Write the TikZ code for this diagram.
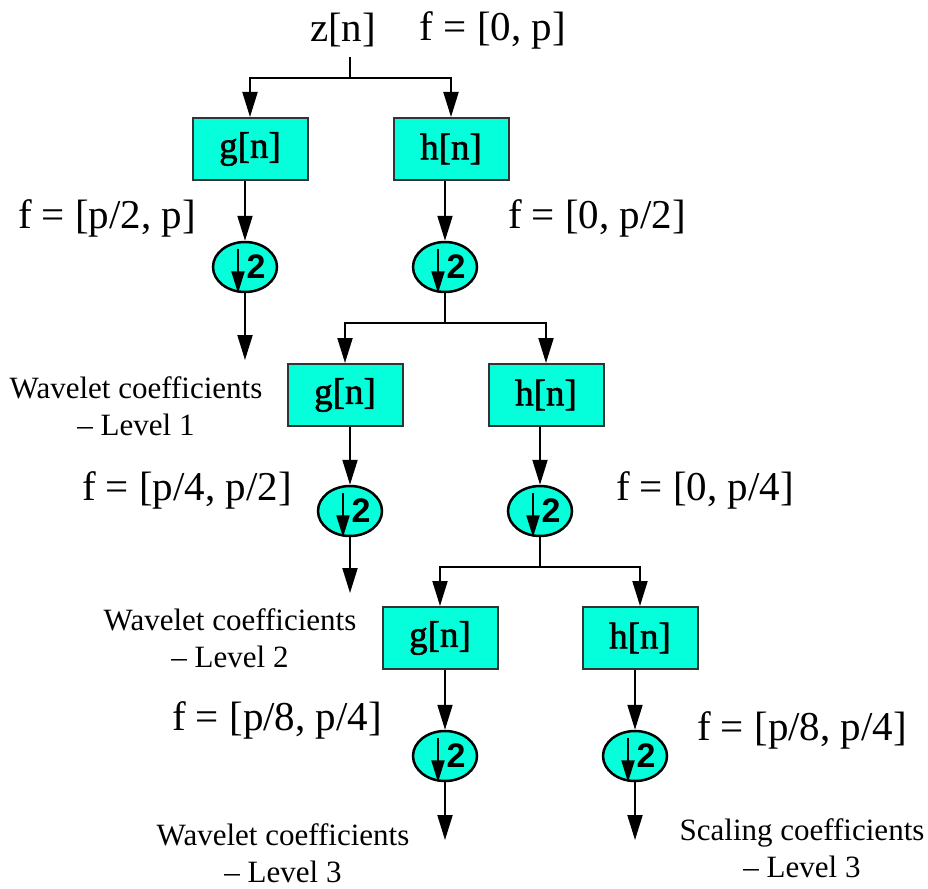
\documentclass[tikz,border=0pt]{standalone}
\usepackage{fontspec}
\setmainfont{Liberation Serif}
\newfontfamily\boxfont[FakeBold=1.6]{Liberation Serif}
\newfontfamily\digitfont{Liberation Sans}
\usetikzlibrary{arrows.meta}
\usetikzlibrary{shapes.geometric}
\definecolor{mycyan}{RGB}{5,255,218}

\begin{document}
\begin{tikzpicture}[x=1pt, y=-1pt,
  arr/.style={-{Triangle[length=25pt,width=15pt]}, line width=2pt},
  iarr/.style={-{Triangle[length=22pt,width=13pt]}, line width=2.2pt},
  filt/.style={draw=black!80, line width=2pt, fill=mycyan, minimum width=115pt, minimum height=62pt, font=\boxfont\fontsize{37}{40}\selectfont},
  dec/.style={ellipse, draw, line width=2.5pt, fill=mycyan, minimum width=64pt, minimum height=50pt, inner sep=0pt},
  two/.style={inner sep=0pt, font=\digitfont\fontsize{34}{36}\selectfont\bfseries},
  big/.style={font=\fontsize{41}{48}\selectfont},
  small/.style={font=\fontsize{31}{37}\selectfont, align=center}]
\useasboundingbox (0,0) rectangle (928,888);

\node[big] (zn) at (343,30) {z[n]};
\node[big] (f0) at (493,30) {f = [0, p]};
\coordinate (t1) at (350,57);
\coordinate (s1) at (350,78);

\node[filt] (g1) at (250,149) {g[n]};
\node[filt] (h1) at (451,149) {h[n]};
\node[filt] (g2) at (345,395) {g[n]};
\node[filt] (h2) at (546,395) {h[n]};
\node[filt] (g3) at (440,638) {g[n]};
\node[filt] (h3) at (640,638) {h[n]};

\foreach \n/\x/\y in {d1g/245/267, d1h/445/267, d2g/350/511, d2h/540/511, d3g/445/756, d3h/635/756}{
  \node[dec] (\n) at (\x,\y) {};
  \node[two] (\n-2) at ([xshift=11pt]\n.center) {2};
  \draw[iarr] ([xshift=-7pt,yshift=-8pt]\n.north) -- ([xshift=-7pt]\n.south);
}

\coordinate (s2) at (445,323);
\coordinate (s3) at (540,567);
\coordinate (o1) at (245,360);
\coordinate (o2) at (350,593);
\coordinate (o3) at (445,840);
\coordinate (o4) at (635,840);

% level 1
\draw[line width=2pt] (t1) -- (s1);
\draw[arr] (s1) -| (g1);
\draw[arr] (s1) -| (h1);
\draw[arr] (g1.south -| d1g) -- (d1g);
\draw[arr] (h1.south -| d1h) -- (d1h);
\draw[arr] (d1g) -- (o1);
% level 2
\draw[line width=2pt] (d1h) -- (s2);
\draw[arr] (s2) -| (g2);
\draw[arr] (s2) -| (h2);
\draw[arr] (g2.south -| d2g) -- (d2g);
\draw[arr] (h2.south -| d2h) -- (d2h);
\draw[arr] (d2g) -- (o2);
% level 3
\draw[line width=2pt] (d2h) -- (s3);
\draw[arr] (s3) -| (g3);
\draw[arr] (s3) -| (h3);
\draw[arr] (g3.south -| d3g) -- (d3g);
\draw[arr] (h3.south -| d3h) -- (d3h);
\draw[arr] (d3g) -- (o3);
\draw[arr] (d3h) -- (o4);

\node[big] (fa) at (107,218) {f = [p/2, p]};
\node[big] (fb) at (597,218) {f = [0, p/2]};
\node[small] (w1) at (136,406) {Wavelet coefficients\\-- Level 1};
\node[big] (fc) at (187,490) {f = [p/4, p/2]};
\node[big] (fd) at (705,490) {f = [0, p/4]};
\node[small] (w2) at (230,638) {Wavelet coefficients\\-- Level 2};
\node[big] (fe) at (277,720) {f = [p/8, p/4]};
\node[big] (ff) at (802,730) {f = [p/8, p/4]};
\node[small] (w3) at (283,853) {Wavelet coefficients\\-- Level 3};
\node[small] (sc) at (802,848) {Scaling coefficients\\-- Level 3};
\end{tikzpicture}
\end{document}
